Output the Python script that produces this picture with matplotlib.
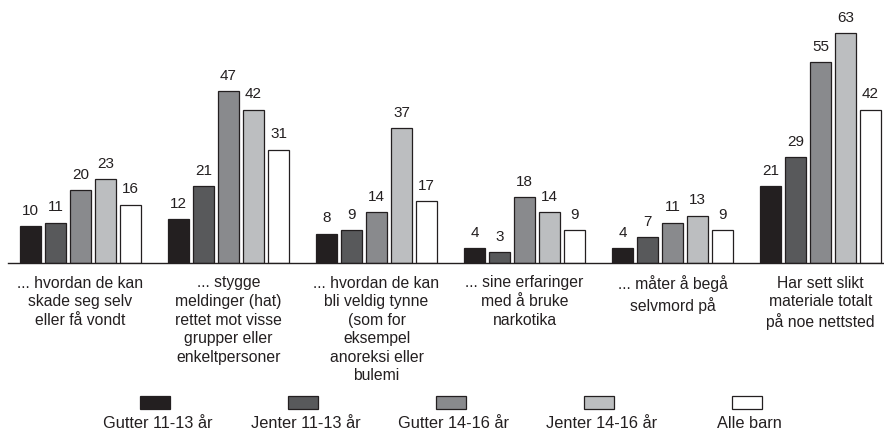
#!/usr/bin/env python3

"""Grouped bar chart: share of children who have seen harmful content."""

import matplotlib.pyplot as plt
from matplotlib.patches import Rectangle

CATEGORIES = [
  "... hvordan de kan\nskade seg selv\neller få vondt",
  "... stygge\nmeldinger (hat)\nrettet mot visse\ngrupper eller\nenkeltpersoner",
  "... hvordan de kan\nbli veldig tynne\n(som for\neksempel\nanoreksi eller\nbulemi",
  "... sine erfaringer\nmed å bruke\nnarkotika",
  "... måter å begå\nselvmord på",
  "Har sett slikt\nmateriale totalt\npå noe nettsted",
]
SERIES = ["Gutter 11-13 år", "Jenter 11-13 år", "Gutter 14-16 år", "Jenter 14-16 år", "Alle barn"]
GUTTER_11_13 = [10, 12, 8, 4, 4, 21]
JENTER_11_13 = [11, 21, 9, 3, 7, 29]
GUTTER_14_16 = [20, 47, 14, 18, 11, 55]
JENTER_14_16 = [23, 42, 37, 14, 13, 63]
ALLE_BARN = [16, 31, 17, 9, 9, 42]
COLORS = ['#231f20', '#58595b', '#898a8d', '#bcbec0', '#ffffff']


def main():
  """Draw and save the chart."""
  plt.rcParams['font.family'] = ['Liberation Sans', 'DejaVu Sans']
  values = [GUTTER_11_13, JENTER_11_13, GUTTER_14_16, JENTER_14_16, ALLE_BARN]

  fig = plt.figure(figsize=(8.84, 4.34), dpi=100)
  ax1 = fig.add_axes([8 / 884, 171 / 434, 876 / 884, 263 / 434])

  pitch = 148.0
  bar_width = 21 / pitch
  step = 25 / pitch
  for s_idx, series in enumerate(values):
    x_pos = [g + (s_idx - 2) * step for g in range(len(CATEGORIES))]
    bars = ax1.bar(x_pos, series, width=bar_width, color=COLORS[s_idx],
                   edgecolor='#231f20', linewidth=0.9, zorder=2)
    for rect, val in zip(bars, series):
      ax1.annotate(f"{val}", (rect.get_x() + rect.get_width() / 2, rect.get_height()),
                   xytext=(0, 6), textcoords='offset points',
                   ha='center', va='bottom', fontsize=11, color='#231f20')

  ax1.set_xlim(-0.49, -0.49 + 876 / pitch)
  ax1.set_ylim(0, 72)
  for side in ['top', 'right', 'left']:
    ax1.spines[side].set_visible(False)
  ax1.spines['bottom'].set_color('#231f20')
  ax1.spines['bottom'].set_linewidth(1.0)
  ax1.set_yticks([])
  ax1.set_xticks(range(len(CATEGORIES)))
  ax1.set_xticklabels(CATEGORIES, fontsize=11.3, color='#231f20', linespacing=1.3)
  ax1.tick_params(axis='x', length=0, pad=9)

  # legend: boxes with labels underneath, between the groups
  lax = fig.add_axes([8 / 884, 0, 876 / 884, 50 / 434])
  lax.set_xlim(ax1.get_xlim())
  lax.set_ylim(0, 50)
  lax.axis('off')
  box_w = 30 / pitch
  for s_idx, name in enumerate(SERIES):
    cx = s_idx + 0.5
    lax.add_patch(Rectangle((cx - box_w / 2, 25), box_w, 13, facecolor=COLORS[s_idx],
                            edgecolor='#231f20', linewidth=0.9))
    lax.text(cx + 0.02, 11, name, ha='center', va='center', fontsize=11.8, color='#231f20')

  fig.savefig('out.png', dpi=100)


if __name__ == "__main__":
  main()
